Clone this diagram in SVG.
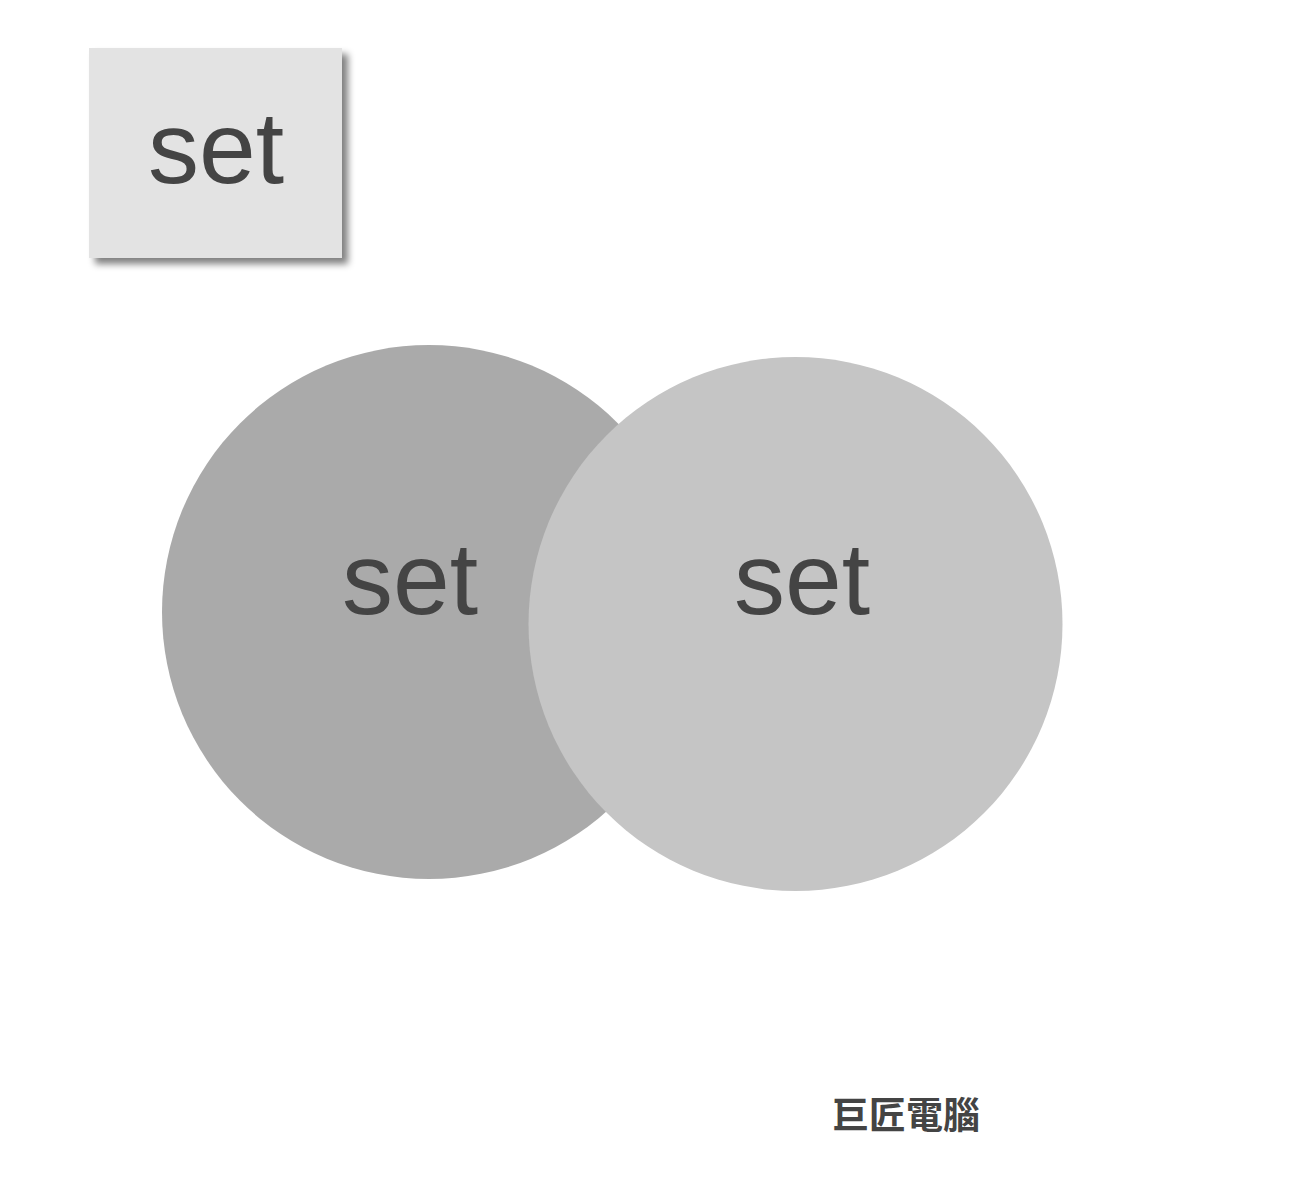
<svg xmlns="http://www.w3.org/2000/svg" width="1294" height="1188" viewBox="0 0 1294 1188">
<style>
.lbl{font-family:"Liberation Sans",Arial,sans-serif;font-size:102px;fill:#444444;text-anchor:middle}
.cap{font-family:"Noto Sans CJK TC","Noto Sans CJK SC",sans-serif;font-size:37px;font-weight:bold;fill:#444444;text-anchor:middle}
</style>
<defs>
<filter id="sh" x="-10%" y="-10%" width="130%" height="130%">
<feGaussianBlur in="SourceAlpha" stdDeviation="3.5"/>
<feOffset dx="6" dy="6" result="b"/>
<feComponentTransfer><feFuncA type="linear" slope="0.5"/></feComponentTransfer>
<feMerge><feMergeNode/><feMergeNode in="SourceGraphic"/></feMerge>
</filter>
</defs>
<rect width="1294" height="1188" fill="#ffffff"/>
<g id="box">
<rect x="89" y="48" width="253" height="210" fill="#e3e3e3" filter="url(#sh)"/>
<text class="lbl" x="216" y="183">set</text>
</g>
<g id="set1">
<circle cx="429" cy="612" r="267" fill="#aaaaaa"/>
</g>
<g id="set2">
<circle cx="795.5" cy="624" r="267" fill="#c5c5c5"/>
</g>
<text class="lbl" x="410" y="614">set</text>
<text class="lbl" x="802" y="614">set</text>
<g id="connectors"/>
<text class="cap" x="906" y="1129">巨匠電腦</text>
</svg>
